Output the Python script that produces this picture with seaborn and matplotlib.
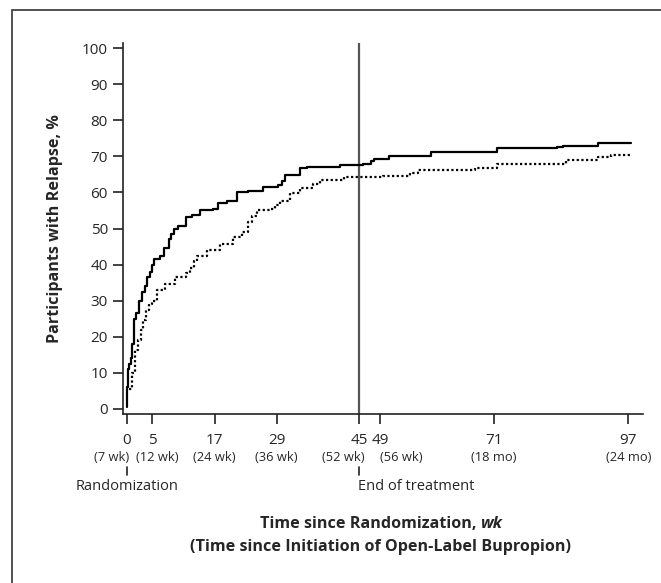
import matplotlib
matplotlib.use('Agg')
import matplotlib.pyplot as plt
from matplotlib.patches import Rectangle
from matplotlib.transforms import offset_copy
import pandas as pd
import seaborn as sns

# step points: weeks since randomization, % relapsed
weeks_solid = [0, 0.15, 0.3, 0.5, 0.8, 1.1, 1.4, 1.9, 2.4, 3.0, 3.5, 4.0, 4.5,
               4.9, 5.3, 6.5, 7.2, 8.1, 8.6, 9.1, 10.0, 11.4, 12.6, 14.2, 16.7,
               17.7, 19.4, 21.3, 23.5, 26.4, 29.3, 30.0, 30.6, 33.5, 34.8, 41.2,
               45.8, 47.3, 47.9, 50.8, 58.8, 71.7, 83.2, 84.3, 91.2, 97.6]
relapse_solid = [0.5, 6, 11, 12.5, 14, 18, 25, 26.5, 30, 32.4, 34, 36.5, 38,
                 40, 41.6, 42.3, 44.5, 47, 48.5, 50, 50.8, 53.1, 53.8, 55, 55.5,
                 57, 57.7, 60, 60.5, 61.6, 62, 63.2, 64.8, 66.9, 67.2, 67.7,
                 68, 68.8, 69.3, 70, 71.1, 72.3, 72.7, 73.0, 73.6, 73.6]

weeks_dotted = [0.5, 1.0, 1.7, 2.2, 2.7, 3.2, 3.7, 4.3, 4.9, 5.9, 7.5, 9.4,
                11.4, 12.3, 13.0, 13.6, 15.5, 18.1, 20.6, 22.3, 23.5, 24.3,
                25.2, 27.7, 28.6, 29.6, 31.6, 33.5, 36.0, 37.3, 42.1, 49.6,
                54.8, 56.4, 57.0, 67.4, 71.7, 84.9, 91.2, 93.6, 97.6]
relapse_dotted = [5.5, 10, 16.3, 19, 21.8, 24.5, 27.3, 29, 30, 32.9, 34.7,
                  36.5, 37.7, 38.9, 41, 42.5, 43.9, 45.8, 47.6, 49, 51.7, 53.5,
                  55, 55.4, 56.5, 57.7, 59.8, 61.2, 62.3, 63.4, 64.2, 64.6,
                  65.3, 66.2, 66.3, 66.9, 68, 69, 69.9, 70.4, 70.4]

tick_weeks = [0, 5, 17, 29, 45, 49, 71, 97]
tick_since_start = ['(7 wk)', '(12 wk)', '(24 wk)', '(36 wk)', '(52 wk)',
                    '(56 wk)', '(18 mo)', '(24 mo)']
y_ticks = list(range(0, 101, 10))
event_weeks = [0, 45]
event_labels = ['Randomization', 'End of treatment']

# pixel nudges so the crowded second-line labels don't collide
since_shift = [-15, 5, 0, 0, -16, 21, 0, 0]

sns.set_style('ticks')
plt.rcParams['font.family'] = ['Open Sans', 'DejaVu Sans']

df = pd.concat([
    pd.DataFrame({'week': weeks_solid, 'relapse': relapse_solid, 'group': 'solid'}),
    pd.DataFrame({'week': weeks_dotted, 'relapse': relapse_dotted, 'group': 'dotted'}),
])

fig = plt.figure(figsize=(6.61, 5.83), dpi=100)
ax = fig.add_axes([123 / 661, 169 / 583, 520.3 / 661, 371 / 583])

sns.lineplot(data=df, x='week', y='relapse', style='group',
             dashes={'solid': '', 'dotted': (1, 1.1)},
             color='black', linewidth=1.6, estimator=None,
             drawstyle='steps-post', legend=False, ax=ax)

ax.axvline(event_weeks[1], color='#555555', lw=1.6, zorder=1)

ax.set_xlim(-0.7, 99.9)
ax.set_ylim(-1.5, 101.5)
ax.set_yticks(y_ticks)
ax.set_xticks(tick_weeks)

ax.tick_params(axis='x', direction='out', length=7.5, width=1.2,
               pad=6.5, labelsize=11, color='#222222')
ax.tick_params(axis='y', direction='out', length=7.2, width=1.2, pad=3.6,
               labelsize=11, color='#222222')

sns.despine(ax=ax)
for side in ['left', 'bottom']:
    ax.spines[side].set_linewidth(1.2)
    ax.spines[side].set_color('#222222')

ax.set_xlabel('')
ax.set_ylabel('Participants with Relapse, %', fontweight='bold', fontsize=11.6)
ax.yaxis.set_label_coords((63 - 123) / 520.3, 0.5)

xt = ax.get_xaxis_transform()

# second line of tick labels (time since open-label start)
for w, lab, dx in zip(tick_weeks, tick_since_start, since_shift):
    tr = offset_copy(xt, fig=fig, x=dx, y=0, units='dots')
    ax.text(w, -0.116, lab, transform=tr, ha='center', va='center',
            fontsize=9.3, clip_on=False)

# event markers under the axis
for w, lab, ha in zip(event_weeks, event_labels, ['center', 'left']):
    ax.plot([w, w], [-0.143, -0.165], transform=xt, color='#222222', lw=1.2,
            clip_on=False)
    ax.text(w - (0 if ha == 'center' else 0.3), -0.195, lab, transform=xt,
            ha=ha, va='center', fontsize=10.5)

# x-axis title, last word in italic
renderer = fig.canvas.get_renderer()
cx = 381
y1 = 1 - 524 / 583
t1 = fig.text(0, y1, 'Time since Randomization,', fontweight='bold',
              fontsize=11.6, va='center')
t2 = fig.text(0, y1, 'wk', fontweight='bold', style='italic', fontsize=11.6,
              va='center')
w1 = t1.get_window_extent(renderer).width
w2 = t2.get_window_extent(renderer).width
gap = 4
x0 = cx - (w1 + gap + w2) / 2
t1.set_x(x0 / 661)
t2.set_x((x0 + w1 + gap) / 661)
fig.text(cx / 661, 1 - 547 / 583,
         '(Time since Initiation of Open-Label Bupropion)',
         fontweight='bold', fontsize=11.6, ha='center', va='center')

# outer frame
fig.add_artist(Rectangle((12 / 661, -0.05), 1.0, (583 - 10) / 583 + 0.05,
                         transform=fig.transFigure, fill=False, lw=1.2,
                         ec='#333333'))

fig.savefig('out.png', dpi=100)
